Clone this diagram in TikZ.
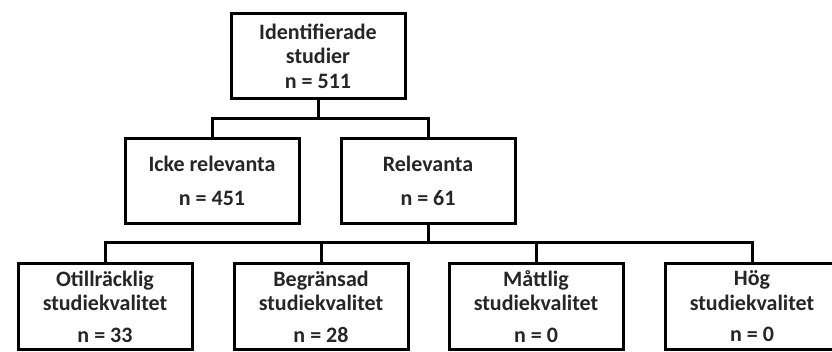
\documentclass[tikz,border=0pt]{standalone}
\usepackage{fontspec}
\setmainfont{Carlito}
\usetikzlibrary{positioning}

\begin{document}
\begin{tikzpicture}[x=1pt, y=-1pt,
    box/.style={rectangle, draw=black, line width=3pt, fill=white, align=center,
                minimum width=174pt, minimum height=85pt, inner sep=0pt,
                font=\fontsize{22}{24.5}\selectfont\bfseries, text=black!85},
    link/.style={line width=3pt, line cap=rect}]
    \useasboundingbox (0,0) rectangle (832,352);
    % nodes
    \node[box]      (top)      at (318,56)        {Identifierade\\studier\\n = 511};
    \node[box]      (icke)     at (212,181)       {Icke relevanta\\[10pt]n = 451};
    \node[box]      (rel)      [right=39pt of icke]  {Relevanta\\[10pt]n = 61};
    \node[box]      (otill)    at (105,306.5)     {Otillräcklig\\studiekvalitet\\[7pt]n = 33};
    \node[box]      (begr)     [right=39pt of otill] {Begränsad\\studiekvalitet\\[7pt]n = 28};
    \node[box]      (mattl)    [right=38pt of begr]  {Måttlig\\studiekvalitet\\[7pt]n = 0};
    \node[box]      (hog)      [right=39pt of mattl] {Hög\\studiekvalitet\\[7pt]n = 0};
    % lines
    \draw[link] (top.south) -- ++(0,19) -| (icke.north);
    \draw[link] (top.south) -- ++(0,19) -| (rel.north);
    \draw[link] (rel.south) -- ++(0,18) -| (otill.north);
    \draw[link] (rel.south) -- ++(0,18) -| (begr.north);
    \draw[link] (rel.south) -- ++(0,18) -| (mattl.north);
    \draw[link] (rel.south) -- ++(0,18) -| (hog.north);
\end{tikzpicture}
\end{document}
